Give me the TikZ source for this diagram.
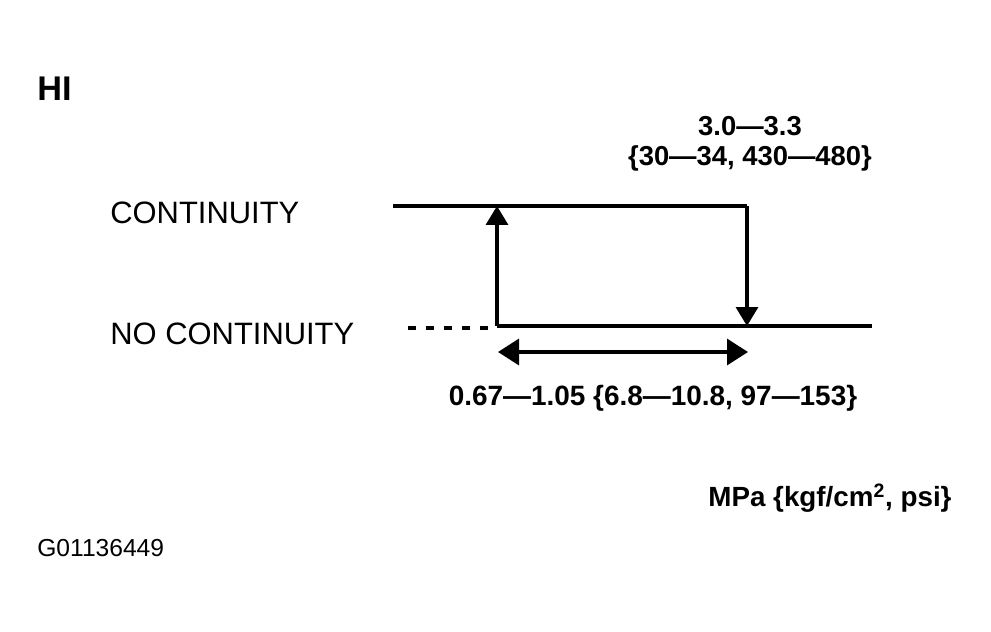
\documentclass[tikz,border=0pt]{standalone}
\usepackage{fontspec}
\setmainfont{Liberation Sans}
\usetikzlibrary{arrows.meta}
\begin{document}
\begin{tikzpicture}[x=0.02cm,y=-0.02cm,
  lbl/.style={inner sep=0pt,font=\fontsize{17.6}{20}\selectfont},
  val/.style={inner sep=0pt,font=\fontsize{15.6}{18}\selectfont\bfseries},
  wire/.style={line width=1.9pt},
  tip/.style={-{Triangle[length=0.38cm,width=0.44cm]}}]
\useasboundingbox[fill=white] (0,0) rectangle (991,632);
% labels
\node[inner sep=0pt,anchor=west,font=\fontsize{19.5}{22}\selectfont\bfseries] (hi) at (37,89) {HI};
\node[lbl,anchor=west] (cont) at (110,213) {CONTINUITY};
\node[lbl,anchor=west] (nocont) at (110,334) {NO CONTINUITY};
\node[val] (hv1) at (750,126) {3.0—3.3};
\node[val] (hv2) at (750,158) {\{30—34, 430—480\}};
\node[val,font=\fontsize{15.9}{18}\selectfont\bfseries] (lv) at (653,398) {0.67—1.05 \{6.8—10.8, 97—153\}};
\node[val,font=\fontsize{15.8}{18}\selectfont\bfseries] (unit) at (830,498) {MPa \{kgf/cm\textsuperscript{2}, psi\}};
\node[inner sep=0pt,anchor=west,font=\fontsize{14}{16}\selectfont] (code) at (37,548) {G01136449};
% coordinates
\coordinate (tl) at (393,206);
\coordinate (tr) at (747,206);
\coordinate (br) at (747,326);
\coordinate (bl) at (497,326);
\coordinate (ta) at (497,206);
\coordinate (be) at (872,326);
\coordinate (ds) at (408,328);
\coordinate (de) at (490,328);
\coordinate (al) at (498,352);
\coordinate (ar) at (748,352);
% hysteresis
\draw[wire] (tl) -- (tr);
\draw[wire,tip] (tr) -- (br);
\draw[wire] (bl) -- (be);
\draw[wire,tip] (bl) -- (ta);
\draw[wire,dash pattern=on 0.16cm off 0.2cm] (ds) -- (de);
\draw[wire,{Triangle[length=0.42cm,width=0.52cm]}-{Triangle[length=0.42cm,width=0.52cm]}] (al) -- (ar);
\end{tikzpicture}
\end{document}
